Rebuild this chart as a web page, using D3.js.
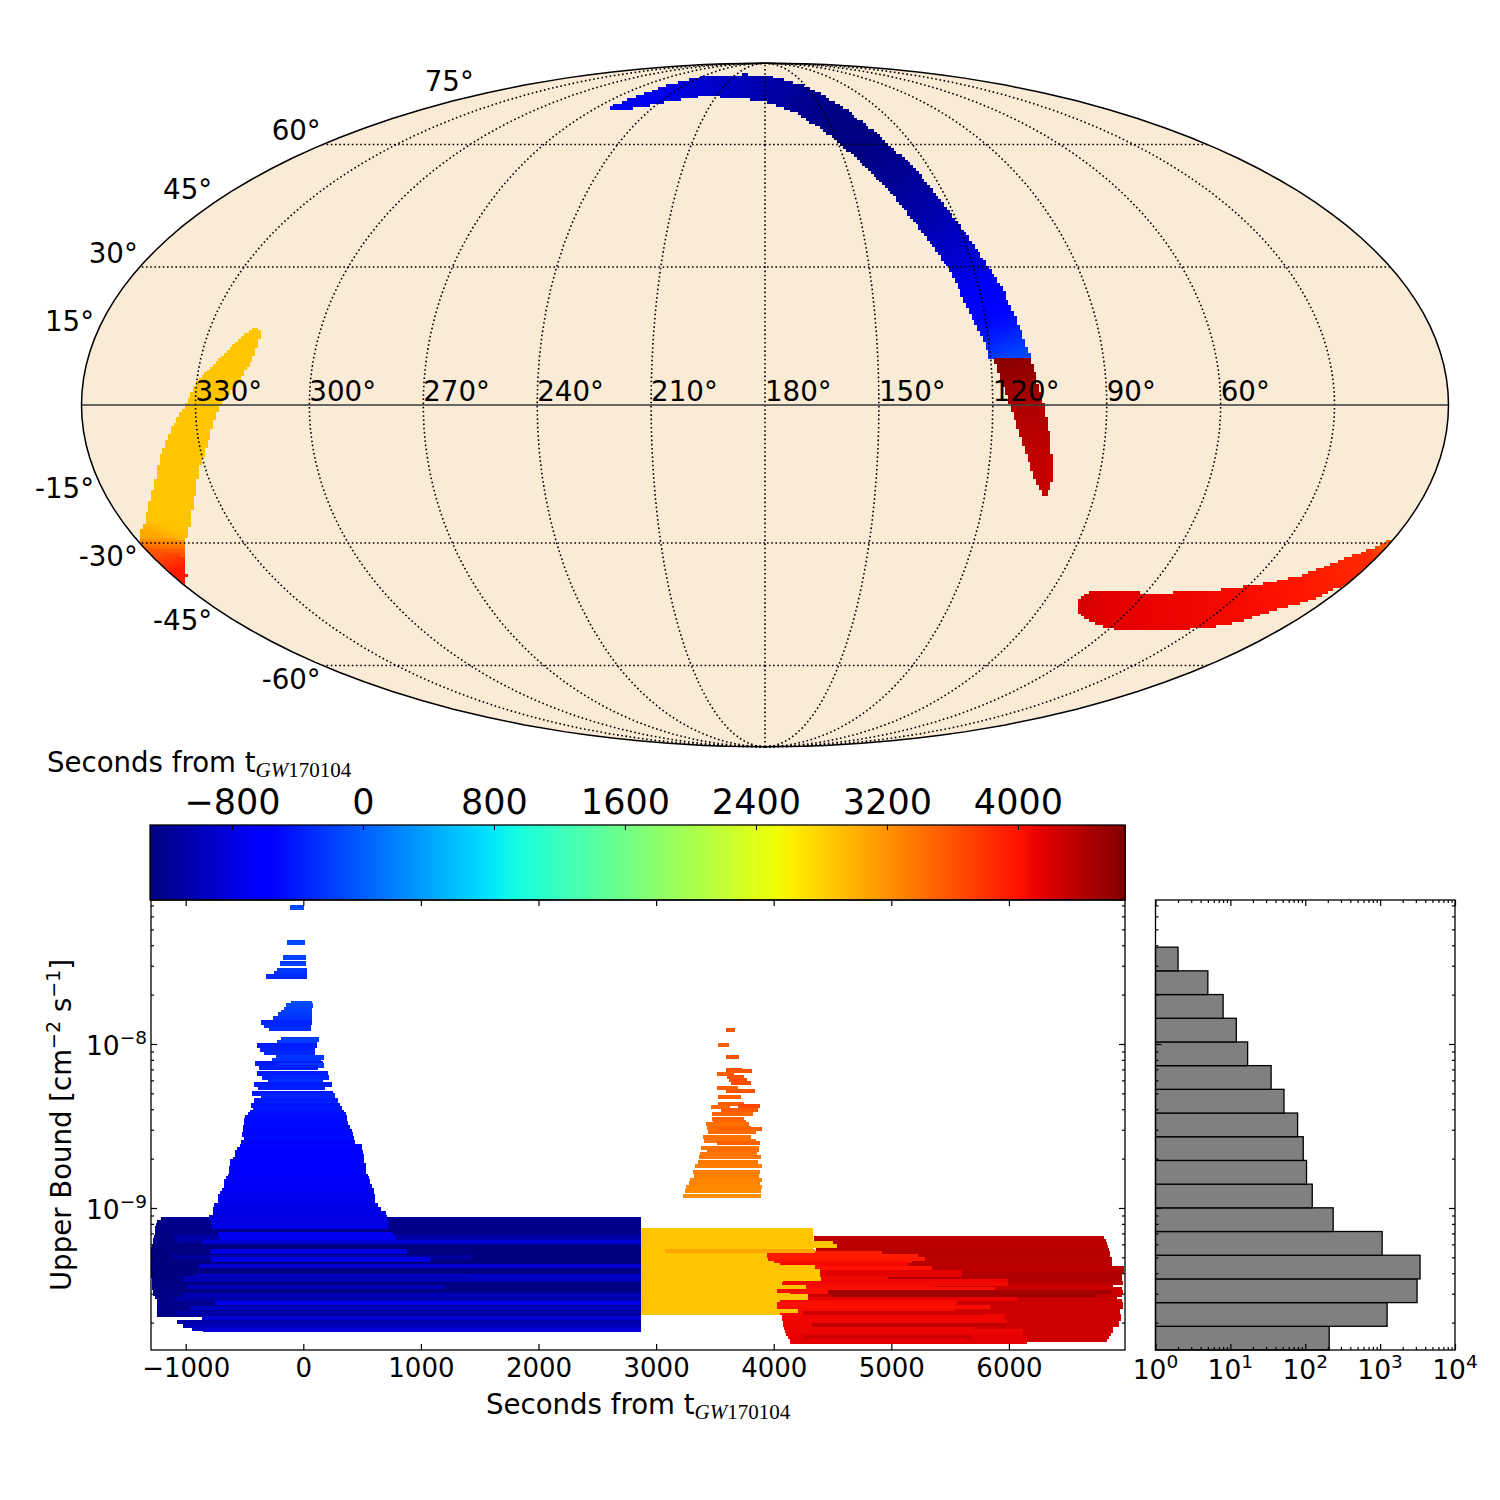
<!DOCTYPE html>
<html>
<head>
<meta charset="utf-8">
<script src="https://cdn.jsdelivr.net/npm/d3@7"></script>
<style>
  body { margin: 0; background: white; }
  text { font-family: "DejaVu Sans", sans-serif; fill: black; }
</style>
</head>
<body>
<div id="dataviz_area"></div>
<script>
// sky bands: centre line in degrees, half width in degrees, seconds from the event
const northLon = [263.2, 255.9, 244, 228.5, 196.4, 178.6, 159.1, 147.1, 138.7, 132.1, 127.2, 122.4, 119.4, 117.2, 115.1, 113.2];
const northLat = [71.2, 73.1, 76.3, 78.9, 78.9, 77.8, 74.05, 67.8, 59.4, 50.7, 41.3, 31.6, 23.5, 17.2, 10.5, 5.3];
const northHalf = [0.6, 1.2, 1.9, 2.25, 2.85, 3.1, 3.3, 3.55, 3.8, 4, 4, 4, 4.7, 4.5, 4.5, 4.5];
const northTime = [-650, -700, -760, -880, -1000, -1080, -1200, -1280, -1270, -1180, -1050, -850, -640, -480, -150, -150];

const tailLon = [116, 114.7, 111.3, 108.2, 105.4, 104.1];
const tailLat = [15, 10.5, 0, -8.1, -15.4, -18.7];
const tailHalf = [4.15, 4.15, 3.8, 3.3, 2.1, 0.6];
const tailTime = [4600, 4600, 4420, 4340, 4290, 4290];

const westLon = [317.9, 319.4, 322.1, 326.7, 328.6, 332.4, 336.9, 341.8, 348.7, 352, 355.8, 359.9, 359.9];
const westLat = [15.4, 12.5, 8.1, 3.2, 0, -6, -12.4, -19.1, -25.9, -28.3, -31.6, -36.8, -39];
const westHalf = [1.5, 2.6, 3.4, 3.7, 3.7, 4.6, 4.85, 5, 5.25, 5.3, 5.45, 3.55, 0.7];
const westTime = [2870, 2870, 2870, 2870, 2870, 2870, 2870, 2870, 2890, 3050, 3600, 3960, 3960];

const southLon = [76.9, 74.5, 67.1, 57.6, 46.7, 36.7, 27.6, 20.1, 12.6, 7.1, 1.8, 0.7];
const southLat = [-45.15, -44.4, -45.15, -45.6, -45.6, -45.15, -44, -42, -40.1, -36.8, -33.3, -30];
const southHalf = [0.7, 3.4, 4.5, 4.5, 4.5, 4.3, 4, 3.3, 3.1, 2.85, 2.4, 1];
const southTime = [4185, 4185, 4150, 4115, 4090, 4073, 4050, 4020, 3980, 3910, 3850, 3500];

const splitLat = 10.5;

const meridians = [30, 60, 90, 120, 150, 180, 210, 240, 270, 300, 330];
const parallels = [-60, -30, 30, 60];
const lonLabels = [330, 300, 270, 240, 210, 180, 150, 120, 90, 60];
const latLabels = [75, 60, 45, 30, 15, -15, -30, -45, -60];

// colour bar
const timeRange = [-1300, 4654];
const cbarTicks = [-800, 0, 800, 1600, 2400, 3200, 4000];

// bars: [start, stop, log10 of upper bound]
const blueBase = [
  [-1213, 2870, -9.069], [-1241, 2870, -9.087], [-1253, 2870, -9.105], [-1258, 2870, -9.124],
  [-1264, 2870, -9.142], [-1264, 2870, -9.160], [-1270, 2870, -9.179], [-1275, 2870, -9.197],
  [-1281, 2870, -9.215], [-1287, 2870, -9.234], [-1292, 2870, -9.252], [-1295, 2870, -9.270],
  [-1295, 2870, -9.288], [-1298, 2870, -9.307], [-1298, 2870, -9.325], [-1298, 2870, -9.343],
  [-1298, 2870, -9.362], [-1298, 2870, -9.380], [-1298, 2870, -9.398], [-1292, 2870, -9.416],
  [-1289, 2870, -9.435], [-1287, 2870, -9.453], [-1287, 2870, -9.471], [-1287, 2870, -9.490],
  [-1281, 2870, -9.508], [-1275, 2870, -9.526], [-1258, 2870, -9.544], [-1247, 2870, -9.563],
  [-1247, 2870, -9.581], [-1247, 2870, -9.599], [-1241, 2870, -9.618], [-1241, 2870, -9.636],
  [-1241, 2870, -9.654]
];
const blueOver = [
  [-1091, 2870, -9.175], [-1077, 2870, -9.195], [-850, 2870, -9.209], [-884, 2870, -9.353],
  [-921, 2870, -9.414], [-1020, 2870, -9.439], [-1020, 2870, -9.530], [-1091, 2870, -9.553],
  [-751, 2870, -9.581], [-963, 2870, -9.612], [-1077, 2870, -9.642], [-864, 2870, -9.671],
  [-1077, 2870, -9.693], [-1020, 2870, -9.719], [-949, 2870, -9.738], [-850, 2870, -9.746],
  [-1105, 1417, -9.297], [-992, 1205, -9.484], [-1020, 1403, -9.429]
];
const blueFan = [
  [-113, 6, -7.165], [-136, 14, -7.384], [-173, 23, -7.470], [-198, 23, -7.512], [-224, 31, -7.549],
  [-249, 31, -7.569], [-317, 31, -7.589], [-105, 74, -7.752], [-147, 82, -7.768], [-164, 74, -7.787],
  [-190, 74, -7.805], [-215, 74, -7.823], [-258, 74, -7.842], [-360, 74, -7.872], [-334, 65, -7.890],
  [-292, 65, -7.905], [-190, 133, -7.970], [-224, 116, -7.988], [-394, 116, -8.010], [-368, 99, -8.031],
  [-334, 99, -8.049], [-232, 176, -8.081], [-266, 150, -8.098], [-411, 167, -8.116], [-215, 176, -8.134],
  [-377, 125, -8.146], [-394, 210, -8.183], [-351, 218, -8.205], [-300, 167, -8.226], [-419, 244, -8.244],
  [-385, 184, -8.268], [-436, 252, -8.299], [-360, 270, -8.317], [-419, 295, -8.342], [-360, 295, -8.362],
  [-445, 312, -8.378], [-428, 329, -8.396], [-453, 346, -8.415], [-470, 363, -8.433], [-496, 371, -8.451],
  [-500, 375, -8.465], [-504, 380, -8.482], [-513, 397, -8.508], [-513, 414, -8.531], [-521, 422, -8.549],
  [-504, 431, -8.575], [-530, 439, -8.600], [-538, 499, -8.624], [-560, 503, -8.642], [-581, 507, -8.661],
  [-581, 516, -8.687], [-600, 516, -8.702], [-623, 516, -8.718], [-623, 533, -8.742], [-628, 533, -8.760],
  [-632, 533, -8.779], [-640, 550, -8.809], [-660, 560, -8.823], [-674, 567, -8.840], [-674, 584, -8.870],
  [-691, 601, -8.896], [-708, 605, -8.913], [-725, 609, -8.931], [-725, 609, -8.945], [-725, 609, -8.961],
  [-759, 635, -8.986], [-768, 660, -9.012], [-768, 703, -9.035], [-802, 709, -9.061], [-787, 720, -9.085],
  [-776, 720, -9.110], [-725, 765, -9.159], [-708, 788, -9.177], [-793, 882, -9.268], [-785, 1077, -9.317]
];
const amberBase = [
  [2870, 4331, -9.136], [2870, 4331, -9.160], [2870, 4331, -9.185], [2870, 4331, -9.209], [2870, 4331, -9.234],
  [2870, 4331, -9.258], [2870, 4331, -9.282], [2870, 4331, -9.307], [2870, 4331, -9.331], [2870, 4331, -9.355],
  [2870, 4331, -9.380], [2870, 4331, -9.404], [2870, 4331, -9.429], [2870, 4331, -9.453], [2870, 4331, -9.477],
  [2870, 4331, -9.502], [2870, 4331, -9.526], [2870, 4331, -9.551], [2870, 4331, -9.575], [2870, 4331, -9.599],
  [2870, 4331, -9.624], [2870, 4331, -9.640]
];
const redBase = [
  [4342, 6811, -9.185], [4342, 6825, -9.203], [4351, 6836, -9.221], [4359, 6845, -9.240], [4359, 6853, -9.258],
  [4365, 6859, -9.276], [4365, 6859, -9.294], [4371, 6873, -9.313], [4371, 6873, -9.331], [4351, 6879, -9.349],
  [4351, 6978, -9.368], [4365, 6978, -9.386], [4393, 6964, -9.404], [4393, 6964, -9.423], [4393, 6958, -9.441],
  [4365, 6967, -9.459], [4280, 6882, -9.477], [4280, 6958, -9.496], [4280, 6967, -9.514], [4294, 6958, -9.532],
  [4294, 6916, -9.551], [4280, 6958, -9.569], [4252, 6967, -9.587], [4252, 6967, -9.605], [4252, 6944, -9.624],
  [4252, 6944, -9.642], [4252, 6953, -9.660], [4252, 6953, -9.679], [4252, 6938, -9.697], [4252, 6938, -9.715],
  [4252, 6887, -9.734], [4252, 6887, -9.752], [4252, 6865, -9.770], [4252, 6853, -9.788], [4252, 6836, -9.807]
];
const redOver = [
  [3940, 4918, -9.276], [3946, 5229, -9.292], [3954, 5286, -9.309], [4002, 5173, -9.325], [4053, 5144, -9.343],
  [3997, 5343, -9.368], [4138, 5598, -9.388], [4138, 5598, -9.408], [4082, 4970, -9.429], [4082, 5994, -9.445],
  [4067, 5994, -9.463], [4053, 5371, -9.479], [4025, 5881, -9.496], [4025, 5499, -9.514], [4124, 6080, -9.553],
  [4053, 5555, -9.571], [4031, 5541, -9.587], [4031, 5839, -9.605], [4039, 5541, -9.624], [4053, 5796, -9.640],
  [4073, 5966, -9.658], [4073, 5966, -9.677], [4082, 5980, -9.695], [4082, 5697, -9.713], [4087, 5711, -9.732],
  [4096, 6122, -9.750], [4104, 6122, -9.768], [4124, 6150, -9.786], [4138, 6150, -9.805], [4138, 6150, -9.817]
];
const redMid = [[4252, 5796, -9.642], [4322, 5980, -9.713], [4252, 5697, -9.788]];
const orangeOver = [[3075, 4351, -9.262]];
const amberOver = [
  [2870, 4507, -9.215], [2870, 4535, -9.232], [2870, 4351, -9.357], [2870, 4390, -9.382], [2870, 4393, -9.406],
  [2870, 4400, -9.431], [2870, 4274, -9.483], [2870, 4138, -9.532], [2870, 4294, -9.551], [2870, 4209, -9.630]
];
const redDark = [[4464, 6873, -9.510], [4493, 6746, -9.528]];
const orangeFan = [
  [3594, 3671, -7.912], [3526, 3620, -8.004], [3594, 3705, -8.077], [3594, 3730, -8.158], [3594, 3815, -8.164],
  [3518, 3662, -8.183], [3603, 3747, -8.201], [3620, 3773, -8.219], [3637, 3807, -8.238], [3518, 3696, -8.266],
  [3594, 3841, -8.286], [3526, 3722, -8.321], [3526, 3747, -8.364], [3696, 3883, -8.376], [3467, 3628, -8.382],
  [3552, 3866, -8.400], [3475, 3824, -8.425], [3475, 3747, -8.457], [3484, 3764, -8.473], [3424, 3790, -8.488],
  [3433, 3807, -8.510], [3518, 3900, -8.518], [3441, 3849, -8.536], [3399, 3807, -8.567], [3407, 3849, -8.591],
  [3518, 3883, -8.603], [3382, 3875, -8.632], [3433, 3875, -8.646], [3373, 3858, -8.671], [3365, 3892, -8.689],
  [3356, 3866, -8.719], [3331, 3900, -8.746], [3314, 3883, -8.778], [3322, 3875, -8.803], [3288, 3900, -8.831],
  [3280, 3883, -8.849], [3254, 3900, -8.874], [3246, 3892, -8.894], [3229, 3892, -8.927]
];

// histogram, lowest bin first
const histCounts = [209, 1239, 3113, 3412, 1064, 236, 124, 104, 94, 79, 52, 35, 17, 12, 8, 5, 2];
const histLow = -9.866;
const histStep = 0.1445;

const xTicks = [-1000, 0, 1000, 2000, 3000, 4000, 5000, 6000];
const yDecades = [-9, -8];
const histDecades = [0, 1, 2, 3, 4];

const svg = d3.select("#dataviz_area")
  .append("svg")
    .attr("width", 1500)
    .attr("height", 1500);

//////////
// COLOURS //
//////////

// matplotlib jet
const jetR = d3.scaleLinear().domain([0, 0.35, 0.66, 0.89, 1]).range([0, 0, 1, 1, 0.5]).clamp(true);
const jetG = d3.scaleLinear().domain([0, 0.125, 0.375, 0.64, 0.91, 1]).range([0, 0, 1, 1, 0, 0]).clamp(true);
const jetB = d3.scaleLinear().domain([0, 0.11, 0.34, 0.65, 1]).range([0.5, 1, 1, 0, 0]).clamp(true);
const norm = d3.scaleLinear().domain(timeRange).range([0, 1]).clamp(true);
function jet(t) {
  const v = norm(t);
  return d3.rgb(255 * jetR(v), 255 * jetG(v), 255 * jetB(v)).formatHex();
}

//////////
// SKY MAP //
//////////

function mollweideRaw(lam, phi) {
  const target = Math.PI * Math.sin(phi);
  let th = phi;
  for (let i = 0; i < 30; i++) {
    const delta = (2 * th + Math.sin(2 * th) - target) / (2 + 2 * Math.cos(2 * th) + 1e-9);
    th -= delta;
    if (Math.abs(delta) < 1e-7) break;
  }
  return [2 * Math.SQRT2 / Math.PI * lam * Math.cos(th), Math.SQRT2 * Math.sin(th)];
}

const mapScale = 241.65;
const projection = d3.geoProjection(mollweideRaw)
  .rotate([-180, 0])
  .reflectX(true)
  .scale(mapScale)
  .translate([765, 405])
  .precision(0.2);
const geo = d3.geoPath(projection);

const map = svg.append("g");
map.append("clipPath").attr("id", "limb")
  .append("path").attr("d", geo({type: "Sphere"}));
map.append("path")
  .attr("d", geo({type: "Sphere"}))
  .attr("fill", "#faebd7");

// one pixel block of the sky map per grid cell inside a band
const cellSize = 2.8;
function bandCells(lon, lat, half, time, keep) {
  const pts = lon.map((d, i) => projection([d, lat[i]]));
  const toPx = mapScale * Math.PI / 180;
  const cells = [];
  const x0 = d3.min(pts, d => d[0]) - 30, x1 = d3.max(pts, d => d[0]) + 30;
  const y0 = d3.min(pts, d => d[1]) - 30, y1 = d3.max(pts, d => d[1]) + 30;
  for (let gx = Math.floor(x0 / cellSize); gx * cellSize < x1; gx++) {
    for (let gy = Math.floor(y0 / cellSize); gy * cellSize < y1; gy++) {
      const cx = gx * cellSize, cy = gy * cellSize;
      if (!keep(cy)) continue;
      let best = Infinity, bestT = 0;
      for (let i = 0; i < pts.length - 1; i++) {
        const [ax, ay] = pts[i], [bx, by] = pts[i + 1];
        const len = (bx - ax) ** 2 + (by - ay) ** 2;
        const u = Math.max(0, Math.min(1, ((cx - ax) * (bx - ax) + (cy - ay) * (by - ay)) / len));
        const dist = Math.hypot(cx - ax - u * (bx - ax), cy - ay - u * (by - ay));
        const gap = dist - d3.interpolateNumber(half[i], half[i + 1])(u) * toPx;
        if (gap < best) { best = gap; bestT = d3.interpolateNumber(time[i], time[i + 1])(u); }
      }
      if (best < 0) cells.push({x: cx, y: cy, t: bestT});
    }
  }
  return cells;
}

const splitY = projection([180, splitLat])[1];
const skyCells = [].concat(
  bandCells(northLon, northLat, northHalf, northTime, y => y < splitY),
  bandCells(tailLon, tailLat, tailHalf, tailTime, y => y >= splitY),
  bandCells(westLon, westLat, westHalf, westTime, () => true),
  bandCells(southLon, southLat, southHalf, southTime, () => true)
);

map.append("g")
    .attr("clip-path", "url(#limb)")
    .attr("shape-rendering", "crispEdges")
  .selectAll("rect")
  .data(skyCells)
  .join("rect")
    .attr("x", d => d.x)
    .attr("y", d => d.y)
    .attr("width", cellSize + 0.4)
    .attr("height", cellSize + 0.4)
    .attr("fill", d => jet(d.t));

// grid lines
const lineLats = d3.range(-90, 90.1, 5);
const lineLons = d3.range(-180, 180.1, 3);
map.selectAll("path.meridian")
  .data(meridians)
  .join("path")
    .attr("class", "meridian")
    .attr("d", m => geo({type: "LineString", coordinates: lineLats.map(a => [m, a])}))
    .attr("fill", "none")
    .attr("stroke", "black")
    .attr("stroke-width", 1.6)
    .attr("stroke-dasharray", "1.6 2.6");
map.selectAll("path.parallel")
  .data(parallels)
  .join("path")
    .attr("class", "parallel")
    .attr("d", a => geo({type: "LineString", coordinates: lineLons.map(l => [l, a])}))
    .attr("fill", "none")
    .attr("stroke", "black")
    .attr("stroke-width", 1.6)
    .attr("stroke-dasharray", "1.6 2.6");
map.append("path")
  .attr("d", geo({type: "LineString", coordinates: lineLons.map(l => [l, 0])}))
  .attr("fill", "none")
  .attr("stroke", "#3a3a3a")
  .attr("stroke-width", 1.6);
map.append("path")
  .attr("d", geo({type: "Sphere"}))
  .attr("fill", "none")
  .attr("stroke", "black")
  .attr("stroke-width", 1.5);

map.selectAll("text.lon")
  .data(lonLabels)
  .join("text")
    .attr("class", "lon")
    .attr("x", d => projection([d, 0])[0])
    .attr("y", 401)
    .style("font-size", "27.7px")
    .text(d => d + "°");
map.selectAll("text.lat")
  .data(latLabels)
  .join("text")
    .attr("class", "lat")
    .attr("text-anchor", "end")
    .attr("x", d => projection([359.99, d])[0] - 2)
    .attr("y", d => projection([359.99, d])[1] + (d > 0 ? -4 : 23))
    .style("font-size", "27.7px")
    .text(d => d + "°");

//////////
// COLOUR BAR //
//////////

const plotLeft = 151, plotRight = 1125, plotTop = 900, plotBottom = 1350;
const cbarTop = 825;

const cbarX = d3.scaleLinear().domain(timeRange).range([150, 1125]);
svg.append("g")
  .attr("shape-rendering", "crispEdges")
  .selectAll("rect")
  .data(d3.range(150, 1125))
  .join("rect")
    .attr("x", d => d)
    .attr("y", cbarTop)
    .attr("width", 1.5)
    .attr("height", plotTop - cbarTop)
    .attr("fill", d => jet(cbarX.invert(d)));

const cbarAxis = svg.append("g")
  .attr("transform", `translate(0, ${cbarTop})`)
  .call(d3.axisTop(cbarX).tickValues(cbarTicks).tickFormat(d3.format("d")).tickSize(-5).tickPadding(11));
cbarAxis.select(".domain").remove();
cbarAxis.selectAll("text").style("font-size", "35px").style("font-family", "DejaVu Sans");
svg.append("rect")
  .attr("x", 150).attr("y", cbarTop)
  .attr("width", 975).attr("height", plotTop - cbarTop)
  .attr("fill", "none").attr("stroke", "black").attr("stroke-width", 1.3);

function timeTitle(x, y) {
  const t = svg.append("text").attr("x", x).attr("y", y).style("font-size", "27.6px");
  t.append("tspan").text("Seconds from t");
  t.append("tspan")
    .attr("dy", 5)
    .style("font-family", "Liberation Serif")
    .style("font-style", "italic")
    .style("font-size", "21px")
    .text("GW");
  t.append("tspan")
    .style("font-family", "Liberation Serif")
    .style("font-size", "21px")
    .text("170104");
}
timeTitle(47, 772);

//////////
// AXIS //
//////////

const x = d3.scaleLinear().domain([-1295, 6987]).range([plotLeft, plotRight]);
const y = d3.scaleLog().domain([Math.pow(10, -9.866), Math.pow(10, -7.122)]).range([plotBottom, plotTop]);
const hx = d3.scaleLog().domain([1, 1e4]).range([1155.5, 1455]);

// log minor tick positions between the decades
function minors(fromExp, toExp) {
  const out = [];
  d3.range(fromExp, toExp).forEach(e => {
    d3.range(2, 10).forEach(m => out.push(m * Math.pow(10, e)));
  });
  return out;
}
const yMinor = minors(-10, -7).filter(d => d >= y.domain()[0] && d <= y.domain()[1]);
const yMajor = yDecades.map(d => Math.pow(10, d));
const hMinor = minors(0, 4);
const hMajor = histDecades.map(d => Math.pow(10, d));

function plainTicks(axisFn, scale, values, size, px, py) {
  const g = svg.append("g")
    .attr("transform", `translate(${px}, ${py})`)
    .call(axisFn(scale).tickValues(values).tickFormat("").tickSize(-size));
  g.select(".domain").remove();
  g.selectAll("line").attr("stroke-width", 1.2);
}

// power of ten tick label, "10" with a raised exponent
function powerLabel(px, py, anchor, exponent) {
  const t = svg.append("text")
    .attr("x", px).attr("y", py)
    .attr("text-anchor", anchor)
    .style("font-size", "26.5px");
  t.append("tspan").text("10");
  t.append("tspan").attr("dy", -11).style("font-size", "18.5px")
    .text(String(exponent).replace("-", "−"));
}

//////////
// BARS //
//////////

svg.append("clipPath").attr("id", "plotArea")
  .append("rect")
    .attr("x", plotLeft).attr("y", plotTop)
    .attr("width", plotRight - plotLeft).attr("height", plotBottom - plotTop);

const barLayers = [blueBase, blueOver, blueFan, amberBase, redBase, redOver, redMid, orangeOver, amberOver, redDark, orangeFan];
svg.append("g")
    .attr("clip-path", "url(#plotArea)")
    .attr("shape-rendering", "crispEdges")
  .selectAll("g")
  .data(barLayers)
  .join("g")
  .selectAll("rect")
  .data(d => d.map(r => ({row: r, h: d === blueFan ? 5 : 4})))
  .join("rect")
    .attr("x", d => x(d.row[0]))
    .attr("width", d => x(d.row[1]) - x(d.row[0]))
    .attr("y", d => y(Math.pow(10, d.row[2])) - d.h / 2)
    .attr("height", d => d.h)
    .attr("fill", d => jet(d.row[0]));

//////////
// HISTOGRAM //
//////////

svg.append("g")
  .selectAll("rect")
  .data(histCounts)
  .join("rect")
    .attr("x", hx(1))
    .attr("width", d => hx(d) - hx(1))
    .attr("y", (d, i) => y(Math.pow(10, histLow + (i + 1) * histStep)))
    .attr("height", (d, i) => y(Math.pow(10, histLow + i * histStep)) - y(Math.pow(10, histLow + (i + 1) * histStep)))
    .attr("fill", "#808080")
    .attr("stroke", "black")
    .attr("stroke-width", 1.3);

//////////
// FRAMES AND TICKS //
//////////

// main panel
plainTicks(d3.axisBottom, x, xTicks, 6, 0, plotBottom);
plainTicks(d3.axisTop, x, xTicks, 6, 0, plotTop);
plainTicks(d3.axisLeft, y, yMajor, 6, plotLeft, 0);
plainTicks(d3.axisLeft, y, yMinor, 3, plotLeft, 0);
plainTicks(d3.axisRight, y, yMajor, 6, plotRight, 0);
plainTicks(d3.axisRight, y, yMinor, 3, plotRight, 0);

const xAxis = svg.append("g")
  .attr("transform", `translate(0, ${plotBottom})`)
  .call(d3.axisBottom(x).tickValues(xTicks).tickFormat(d3.format("d")).tickSize(0).tickPadding(9));
xAxis.select(".domain").remove();
xAxis.selectAll("text").style("font-size", "26px").style("font-family", "DejaVu Sans");

svg.append("rect")
  .attr("x", plotLeft).attr("y", plotTop)
  .attr("width", plotRight - plotLeft).attr("height", plotBottom - plotTop)
  .attr("fill", "none").attr("stroke", "black").attr("stroke-width", 1.3);

yDecades.forEach(e => powerLabel(147, y(Math.pow(10, e)) + 11, "end", e));

timeTitle(486, 1414);

const yTitle = svg.append("text")
  .attr("transform", "translate(71, 1125) rotate(-90)")
  .attr("text-anchor", "middle")
  .style("font-size", "27.6px");
yTitle.append("tspan").text("Upper Bound [cm");
yTitle.append("tspan").attr("dy", -11).style("font-size", "19px").text("−2");
yTitle.append("tspan").attr("dy", 11).text(" s");
yTitle.append("tspan").attr("dy", -11).style("font-size", "19px").text("−1");
yTitle.append("tspan").attr("dy", 11).text("]");

// histogram panel
plainTicks(d3.axisBottom, hx, hMajor, 6, 0, plotBottom);
plainTicks(d3.axisBottom, hx, hMinor, 3, 0, plotBottom);
plainTicks(d3.axisTop, hx, hMajor, 6, 0, plotTop);
plainTicks(d3.axisTop, hx, hMinor, 3, 0, plotTop);
plainTicks(d3.axisLeft, y, yMajor, 6, hx(1), 0);
plainTicks(d3.axisLeft, y, yMinor, 3, hx(1), 0);
plainTicks(d3.axisRight, y, yMajor, 6, hx(1e4), 0);
plainTicks(d3.axisRight, y, yMinor, 3, hx(1e4), 0);

svg.append("rect")
  .attr("x", hx(1)).attr("y", plotTop)
  .attr("width", hx(1e4) - hx(1)).attr("height", plotBottom - plotTop)
  .attr("fill", "none").attr("stroke", "black").attr("stroke-width", 1.3);

histDecades.forEach(e => powerLabel(hx(Math.pow(10, e)), plotBottom + 29, "middle", e));
</script>
</body>
</html>
